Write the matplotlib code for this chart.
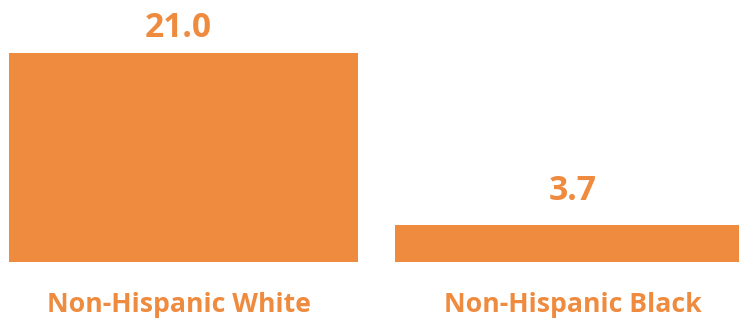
import matplotlib
matplotlib.use("Agg")
import matplotlib.pyplot as plt

categories = ["Non-Hispanic White", "Non-Hispanic Black"]
values = [21.0, 3.7]
value_labels = ["21.0", "3.7"]

color = "#EE8B3E"
plt.rcParams['font.family'] = ['Open Sans', 'DejaVu Sans']

fig = plt.figure(figsize=(7.39, 3.23), dpi=100)
ax = fig.add_axes([0, 0, 1, 1])

x = list(range(len(categories)))
ax.bar(x, values, width=0.904, color=color)

# px mapping: index 0 -> 183.5 px, spacing 386 px
ppu = 386.0
x0 = 183.5
ax.set_xlim(-x0 / ppu, (739 - x0) / ppu)
ypu = 209 / 21.0
ax.set_ylim(-61 / ypu, (323 - 61) / ypu)

# text nudges (points) so labels sit as in the original layout
text_dx = [-3.5, 2.5]
value_dy = [11.5, 18.0]

for xi, v, lab, dx, dy in zip(x, values, value_labels, text_dx, value_dy):
    ax.annotate(lab, (xi, v), xytext=(dx, dy), textcoords="offset points",
                ha="center", va="baseline", fontsize=24.2, fontweight="bold",
                color=color)

for xi, cat, dx in zip(x, categories, text_dx):
    ax.annotate(cat, (xi, 0), xytext=(dx, -36), textcoords="offset points",
                ha="center", va="baseline", fontsize=19.2, fontweight="bold",
                color=color)

ax.set_xticks([])
ax.set_yticks([])
for s in ax.spines.values():
    s.set_visible(False)
ax.patch.set_visible(False)

fig.savefig("out.png", dpi=100)
